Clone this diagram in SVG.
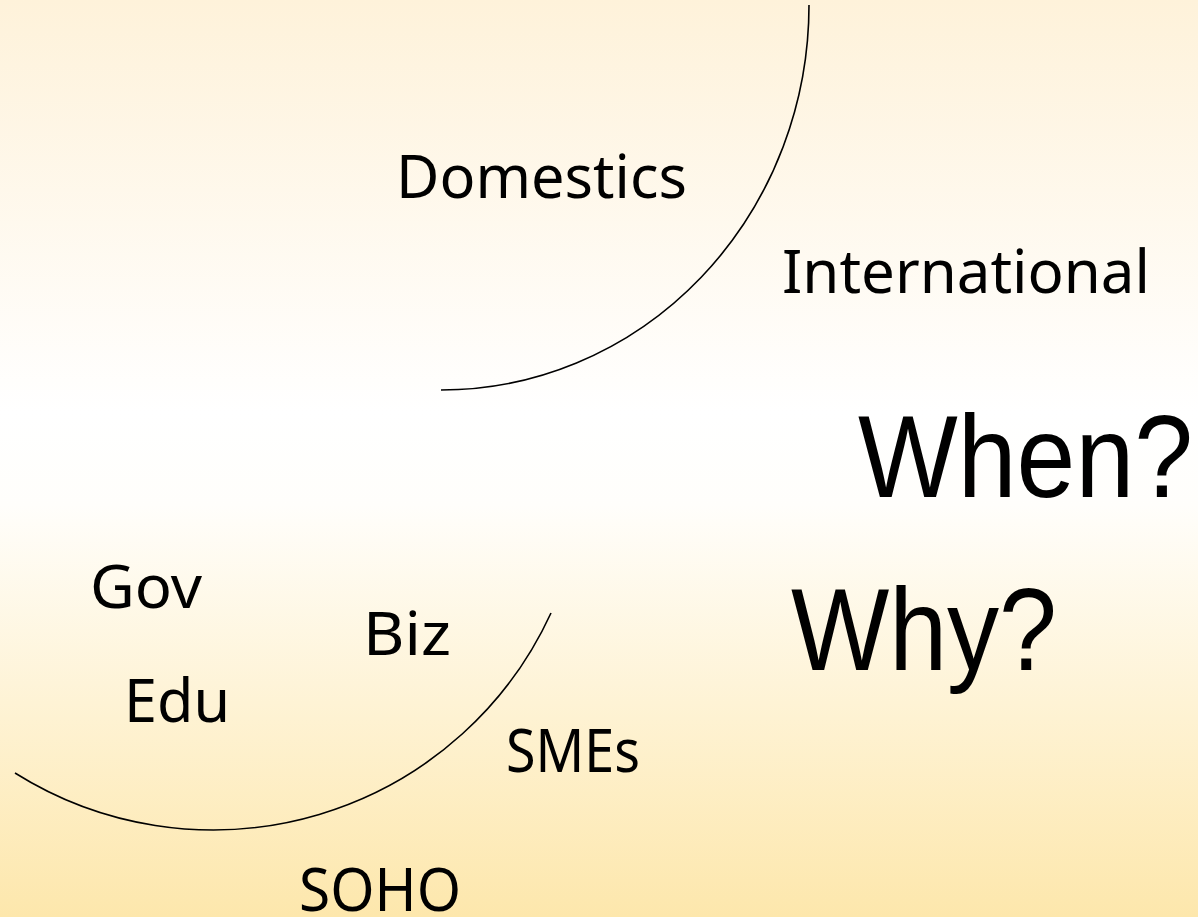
<svg xmlns="http://www.w3.org/2000/svg" width="1198" height="917" viewBox="0 0 1198 917">
<defs>
<linearGradient id="bg" x1="0" y1="0" x2="0" y2="1">
<stop offset="0" stop-color="#FEF2DA"/>
<stop offset="0.45" stop-color="#FFFFFF"/>
<stop offset="0.55" stop-color="#FFFEFB"/>
<stop offset="1" stop-color="#FDE7AC"/>
</linearGradient>
<style>
.t{font-family:"Noto Sans","Open Sans","Liberation Sans",sans-serif;font-size:60px;fill:#000}
.big{font-family:"Liberation Sans",Arial,sans-serif;font-size:116px;fill:#000}
.arc{fill:none;stroke:#000;stroke-width:1.6}
</style>
</defs>
<rect x="0" y="0" width="1198" height="917" fill="url(#bg)"/>
<g id="connectors">
<path class="arc" d="M809,5 A368,385 0 0,1 441,390"/>
<path class="arc" d="M15,773 A372,372 0 0,0 551,613"/>
</g>
<g id="domestics"><text class="t" x="396" y="198" textLength="291" lengthAdjust="spacingAndGlyphs">Domestics</text></g>
<g id="international"><text class="t" x="782" y="293" textLength="368" lengthAdjust="spacingAndGlyphs">International</text></g>
<g id="when"><text class="big" x="858" y="497" textLength="335" lengthAdjust="spacingAndGlyphs">When?</text></g>
<g id="why"><text class="big" x="791" y="670" textLength="266" lengthAdjust="spacingAndGlyphs">Why?</text></g>
<g id="gov"><text class="t" x="90" y="608" textLength="112" lengthAdjust="spacingAndGlyphs">Gov</text></g>
<g id="biz"><text class="t" x="363" y="655" textLength="88" lengthAdjust="spacingAndGlyphs">Biz</text></g>
<g id="edu"><text class="t" x="124" y="722" textLength="106" lengthAdjust="spacingAndGlyphs">Edu</text></g>
<g id="smes"><text class="t" x="506" y="772" textLength="134" lengthAdjust="spacingAndGlyphs">SMEs</text></g>
<g id="soho"><text class="t" x="299" y="911" textLength="162" lengthAdjust="spacingAndGlyphs">SOHO</text></g>
</svg>
